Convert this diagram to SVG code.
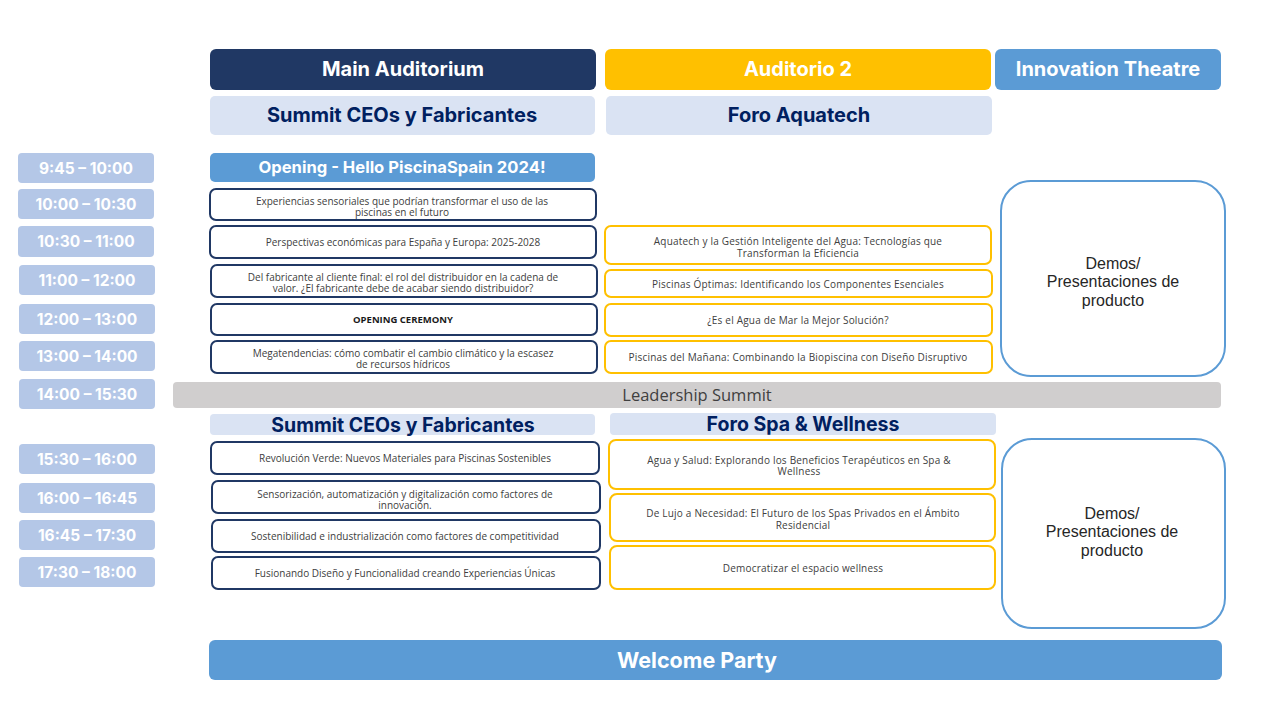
<svg xmlns="http://www.w3.org/2000/svg" width="1280" height="720" viewBox="0 0 1280 720">
<style>
text{font-family:"Open Sans","Liberation Sans",sans-serif;text-anchor:middle;dominant-baseline:central}
.hd{font-family:Inter,"Open Sans",sans-serif;font-weight:700;fill:#fff;font-size:20px}
.sub{font-family:Inter,"Open Sans",sans-serif;font-weight:700;fill:#002060;font-size:20px}
.tm rect{fill:#B4C7E7}
.tm text{font-family:Inter,"Open Sans",sans-serif;font-weight:700;fill:#fff;font-size:15.5px}
.mn rect{fill:#fff;stroke:#203864;stroke-width:2}
.au rect{fill:#fff;stroke:#FFC000;stroke-width:2}
.sm{font-size:10px;fill:#404040}
.au .sm{letter-spacing:0.2px}
.demo rect{fill:#fff;stroke:#5B9BD5;stroke-width:2}
.demo text{font-family:"Liberation Sans",Arial,sans-serif;font-size:16px;fill:#262626}
</style>
<rect width="1280" height="720" fill="#fff"/>

<g id="hdr-main"><rect x="210" y="49" width="386" height="41" rx="6" fill="#203864"/><text class="hd" x="403" y="69">Main Auditorium</text></g>
<g id="hdr-aud2"><rect x="605" y="49" width="386" height="41" rx="6" fill="#FFC000"/><text class="hd" x="798" y="69">Auditorio 2</text></g>
<g id="hdr-innov"><rect x="995" y="49" width="226" height="41" rx="6" fill="#5B9BD5"/><text class="hd" x="1108" y="69">Innovation Theatre</text></g>
<g id="sub-summit1"><rect x="210" y="96" width="385" height="39" rx="5" fill="#DAE3F3"/><text class="sub" x="402" y="115">Summit CEOs y Fabricantes</text></g>
<g id="sub-aquatech"><rect x="606" y="96" width="386" height="39" rx="5" fill="#DAE3F3"/><text class="sub" x="799" y="115">Foro Aquatech</text></g>
<g id="opening"><rect x="210" y="153" width="385" height="29" rx="5" fill="#5B9BD5"/><text class="hd" x="402" y="167" style="font-size:16.6px">Opening - Hello PiscinaSpain 2024!</text></g>

<g class="tm" id="times">
<g id="t1"><rect x="18" y="153" width="136" height="30" rx="4"/><text x="86" y="168">9:45 – 10:00</text></g>
<g id="t2"><rect x="18" y="189" width="136" height="30" rx="4"/><text x="86" y="204">10:00 – 10:30</text></g>
<g id="t3"><rect x="18" y="226" width="136" height="31" rx="4"/><text x="86" y="241">10:30 – 11:00</text></g>
<g id="t4"><rect x="19" y="265" width="136" height="30" rx="4"/><text x="87" y="280">11:00 – 12:00</text></g>
<g id="t5"><rect x="19" y="304" width="136" height="30" rx="4"/><text x="87" y="319">12:00 – 13:00</text></g>
<g id="t6"><rect x="19" y="341" width="136" height="30" rx="4"/><text x="87" y="356">13:00 – 14:00</text></g>
<g id="t7"><rect x="19" y="379" width="136" height="30" rx="4"/><text x="87" y="394">14:00 – 15:30</text></g>
<g id="t8"><rect x="19" y="444" width="136" height="30" rx="4"/><text x="87" y="459">15:30 – 16:00</text></g>
<g id="t9"><rect x="19" y="483" width="136" height="30" rx="4"/><text x="87" y="498">16:00 – 16:45</text></g>
<g id="t10"><rect x="19" y="520" width="136" height="30" rx="4"/><text x="87" y="535">16:45 – 17:30</text></g>
<g id="t11"><rect x="19" y="557" width="136" height="30" rx="4"/><text x="87" y="572">17:30 – 18:00</text></g>
</g>

<g class="mn" id="main-am">
<g id="m1"><rect x="210" y="189" width="386" height="31" rx="6"/><text class="sm" x="402" y="200.5">Experiencias  sensoriales que podrían transformar el uso de las</text><text class="sm" x="402" y="212">piscinas en el futuro</text></g>
<g id="m2"><rect x="210" y="226" width="386" height="32" rx="6"/><text class="sm" x="403" y="241.5">Perspectivas  económicas  para España y Europa: 2025-2028</text></g>
<g id="m3"><rect x="211" y="265" width="386" height="32" rx="6"/><text class="sm" x="403" y="276.5">Del fabricante  al cliente final: el rol del distribuidor  en la cadena de</text><text class="sm" x="403" y="288">valor. ¿El fabricante  debe de acabar siendo distribuidor?</text></g>
<g id="m4"><rect x="211" y="304" width="386" height="31" rx="6"/><text class="sm" x="403" y="319.5" style="font-weight:700;fill:#1a1a1a;font-size:9.5px">OPENING CEREMONY</text></g>
<g id="m5"><rect x="211" y="341" width="386" height="32" rx="6"/><text class="sm" x="403" y="352.5">Megatendencias: cómo combatir  el cambio climático  y la escasez</text><text class="sm" x="403" y="364">de recursos hídricos</text></g>
</g>

<g class="au" id="aud2-am">
<g id="a1"><rect x="605" y="226" width="386" height="38" rx="6"/><text class="sm" x="798" y="241">Aquatech y la Gestión Inteligente del Agua: Tecnologías que</text><text class="sm" x="798" y="252.5">Transforman  la Eficiencia</text></g>
<g id="a2"><rect x="605" y="270" width="387" height="27" rx="6"/><text class="sm" x="798" y="283.5">Piscinas  Óptimas:  Identificando  los Componentes Esenciales</text></g>
<g id="a3"><rect x="605" y="304" width="387" height="32" rx="6"/><text class="sm" x="798" y="320">¿Es el Agua de Mar la Mejor Solución?</text></g>
<g id="a4"><rect x="605" y="341" width="387" height="32" rx="6"/><text class="sm" x="798" y="357">Piscinas del Mañana: Combinando la Biopiscina con Diseño Disruptivo</text></g>
</g>

<g class="demo" id="demo1"><rect x="1001" y="181" width="224" height="195" rx="30"/><text x="1113" y="263">Demos/</text><text x="1113" y="281.5">Presentaciones de</text><text x="1113" y="300">producto</text></g>

<g id="leadership"><rect x="173" y="382" width="1048" height="26" rx="4" fill="#D0CECE"/><text x="697" y="394.5" style="font-size:16.5px;fill:#404040">Leadership Summit</text></g>

<g id="sub-summit2"><rect x="210" y="414" width="385" height="21" rx="4" fill="#DAE3F3"/><text class="sub" x="403" y="424.5" style="font-size:19.5px">Summit CEOs y Fabricantes</text></g>
<g id="sub-spa"><rect x="610" y="413" width="386" height="22" rx="4" fill="#DAE3F3"/><text class="sub" x="803" y="423.5" style="font-size:19.5px">Foro Spa &amp; Wellness</text></g>

<g class="mn" id="main-pm">
<g id="m6"><rect x="211" y="442" width="388" height="32" rx="6"/><text class="sm" x="405" y="457.5">Revolución  Verde: Nuevos Materiales para Piscinas Sostenibles</text></g>
<g id="m7"><rect x="212" y="481" width="388" height="32" rx="6"/><text class="sm" x="405" y="493.5">Sensorización,  automatización  y digitalización  como factores de</text><text class="sm" x="405" y="505">innovación.</text></g>
<g id="m8"><rect x="212" y="520" width="388" height="32" rx="6"/><text class="sm" x="405" y="536">Sostenibilidad  e industrialización  como factores de competitividad</text></g>
<g id="m9"><rect x="212" y="557" width="388" height="32" rx="6"/><text class="sm" x="405" y="573">Fusionando Diseño y Funcionalidad  creando Experiencias  Únicas</text></g>
</g>

<g class="au" id="spa-pm">
<g id="s1"><rect x="609" y="440" width="386" height="49" rx="7"/><text class="sm" x="799" y="459.5">Agua y Salud: Explorando  los Beneficios Terapéuticos en Spa &amp;</text><text class="sm" x="799" y="471">Wellness</text></g>
<g id="s2"><rect x="610" y="494" width="385" height="47" rx="7"/><text class="sm" x="803" y="513">De Lujo a Necesidad:  El Futuro de los Spas Privados en el Ámbito</text><text class="sm" x="803" y="524.5">Residencial</text></g>
<g id="s3"><rect x="610" y="546" width="385" height="43" rx="7"/><text class="sm" x="803" y="568">Democratizar  el espacio wellness</text></g>
</g>

<g class="demo" id="demo2"><rect x="1002" y="439" width="223" height="189" rx="30"/><text x="1112" y="513">Demos/</text><text x="1112" y="531.5">Presentaciones de</text><text x="1112" y="550">producto</text></g>

<g id="welcome"><rect x="209" y="640" width="1013" height="40" rx="6" fill="#5B9BD5"/><text class="hd" x="697" y="660" style="font-size:21.5px">Welcome Party</text></g>
</svg>
